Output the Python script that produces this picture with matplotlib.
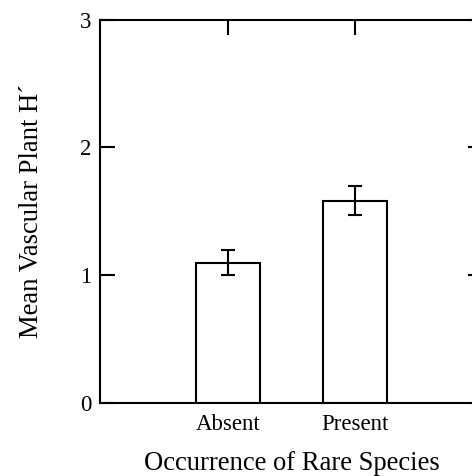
import matplotlib
matplotlib.use("Agg")
import matplotlib.pyplot as plt

categories = ["Absent", "Present"]
means = [1.10, 1.585]
errors = [0.10, 0.115]
y_ticks = [0, 1, 2, 3]

plt.rcParams['font.family'] = ['Liberation Serif', 'DejaVu Serif']

fig = plt.figure(figsize=(4.72, 4.76), dpi=100)
ax = fig.add_axes([100/472, (476-403.3)/476, 383/472, (403.3-19.5)/476])

x = [1, 2]
ax.bar(x, means, width=0.5, color='white', edgecolor='black', linewidth=1.5, zorder=2)
ax.errorbar(x, means, yerr=errors, fmt='none', ecolor='black', elinewidth=1.5,
            capsize=5, capthick=1.5, zorder=3)

ax.set_xlim(0, 3)
ax.set_ylim(0, 3)
ax.set_xticks(x)
ax.set_xticklabels(categories)
ax.set_yticks(y_ticks)
ax.set_yticklabels([str(t) for t in y_ticks])
ax.tick_params(direction='in', length=11, width=1.5, top=True, right=True,
               labelsize=16.5, color='black')
ax.tick_params(axis='x', pad=8)
ax.tick_params(axis='y', pad=6)
for s in ax.spines.values():
    s.set_linewidth(1.5)

ax.set_xlabel("Occurrence of Rare Species", fontsize=19.2, labelpad=11)
ax.set_ylabel("Mean Vascular Plant H\u00b4", fontsize=19.2, labelpad=26)

fig.savefig("out.png", dpi=100)
